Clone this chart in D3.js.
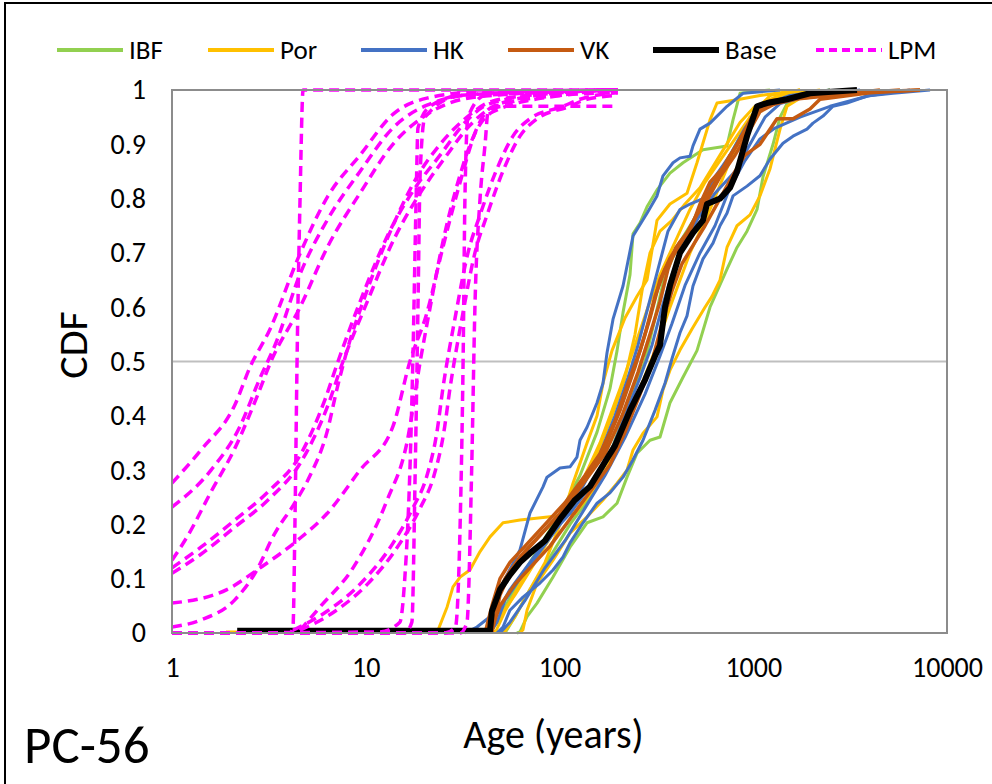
<!DOCTYPE html>
<html>
<head>
<meta charset="utf-8">
<script src="https://cdnjs.cloudflare.com/ajax/libs/d3/7.8.5/d3.min.js"></script>
<style>
  body { margin: 0; background: #fff; }
  text { font-family: Carlito, Calibri, Lato, sans-serif; fill: #000; }
</style>
</head>
<body>
<svg id="chart" width="992" height="784"></svg>
<script>
// series values: [age in years, CDF]
const ibf = [
  [[43.8,0],[49.3,0.03],[62.5,0.1],[79.3,0.16],[100.6,0.22],[127.6,0.29],[156.2,0.37],[182.2,0.45],[198.2,0.52],[212.7,0.59],[231.2,0.66],[239.6,0.735],[260.3,0.755],[282.9,0.785],[318.6,0.816],[371.8,0.847],[433.9,0.866],[550.3,0.89],[731.9,0.897],[786.2,0.945],[854.4,0.994],[1221,1]],
  [[60.3,0],[62.5,0.002],[68.0,0.03],[76.6,0.055],[92.6,0.103],[113.3,0.158],[138.7,0.203],[167.7,0.214],[198.2,0.239],[223.1,0.287],[251.2,0.331],[293.2,0.355],[330.2,0.361],[371.8,0.424],[433.9,0.471],[512.4,0.52],[598.1,0.6],[731.9,0.67],[824.5,0.71],[928.5,0.74],[1046,0.78],[1123,0.84],[1265,0.9],[1375,0.95],[1494,0.975],[1743,0.99],[2490,1]],
  [[52.3,0],[58.9,0.03],[70.4,0.08],[89.3,0.14],[113.3,0.2],[143.7,0.25],[182.2,0.33],[231.2,0.43],[276.3,0.5],[311.1,0.58],[350.4,0.66],[418.7,0.72],[531.0,0.78],[634.7,0.83],[758.6,0.88],[906.7,0.93],[1083,0.97],[1547,0.99],[2490,1]]
]

const por = [
  [[23.3,0],[26.3,0.048],[28.2,0.085],[30.7,0.103],[34.5,0.116],[38.9,0.15],[43.8,0.177],[51.1,0.203],[62.5,0.208],[89.3,0.214],[120.2,0.22],[161.8,0.28],[205.3,0.35],[260.3,0.45],[311.1,0.52],[371.8,0.6],[471.6,0.7],[598.1,0.78],[758.6,0.87],[962.1,0.95],[1221,0.99],[1743,1]],
  [[1.9,0.002],[30,0.002],[52.3,0.003],[58.9,0.03],[70.4,0.08],[84.2,0.13],[100.6,0.2],[117.4,0.276],[138.7,0.35],[156.2,0.4],[167.7,0.46],[186.6,0.52],[217.8,0.58],[251.2,0.62],[282.9,0.65],[318.6,0.76],[371.8,0.79],[455.1,0.81],[512.4,0.866],[598.1,0.945],[650.0,0.976],[824.5,0.982],[1083,0.99],[1743,1]],
  [[62.5,0],[64.8,0.006],[68.0,0.042],[76.6,0.092],[92.6,0.134],[113.3,0.184],[138.7,0.214],[167.7,0.245],[198.2,0.276],[223.1,0.3],[239.6,0.337],[269.8,0.368],[318.6,0.398],[342.2,0.448],[371.8,0.484],[418.7,0.521],[482.9,0.56],[563.6,0.6],[612.5,0.62],[673.6,0.65],[731.9,0.71],[824.5,0.75],[962.1,0.77],[1083,0.805],[1221,0.855],[1375,0.928],[1494,0.97],[1743,0.985],[2490,1]],
  [[46.5,0],[52.3,0.04],[62.5,0.09],[79.3,0.15],[100.6,0.21],[127.6,0.27],[161.8,0.35],[205.3,0.45],[245.4,0.53],[286.3,0.6],[330.2,0.66],[394.5,0.72],[471.6,0.78],[563.6,0.83],[673.6,0.87],[805.1,0.91],[962.1,0.95],[1150,0.98],[1743,1]],
  [[43.8,0],[49.3,0.03],[58.9,0.07],[74.7,0.13],[94.8,0.19],[120.2,0.25],[152.5,0.32],[186.6,0.4],[217.8,0.47],[245.4,0.55],[266.6,0.63],[293.2,0.7],[330.2,0.74],[380.7,0.76],[444.4,0.79],[531.0,0.82],[673.6,0.88],[854.4,0.94],[1021,0.97],[1375,0.99],[2211,1]]
]

const hk = [
  [[32.5,0],[37.5,0.011],[43.8,0.03],[51.1,0.092],[62.5,0.153],[70.4,0.221],[82.2,0.269],[86.2,0.287],[100.6,0.304],[113.3,0.306],[123.1,0.324],[127.6,0.355],[138.7,0.379],[156.2,0.424],[167.7,0.46],[175.9,0.516],[188.9,0.578],[212.7,0.639],[239.6,0.731],[282.9,0.773],[318.6,0.805],[342.2,0.842],[385.3,0.866],[418.7,0.875],[471.6,0.878],[488.6,0.897],[531.0,0.928],[598.1,0.939],[731.9,0.97],[885.4,0.994],[1375,1]],
  [[47.6,0],[51.1,0.011],[55.5,0.042],[64.8,0.066],[79.3,0.092],[92.6,0.116],[104.3,0.14],[113.3,0.166],[132.2,0.203],[156.2,0.239],[182.2,0.258],[212.7,0.287],[239.6,0.319],[269.8,0.355],[311.1,0.41],[350.4,0.46],[380.7,0.505],[418.7,0.553],[455.1,0.584],[488.6,0.639],[550.3,0.689],[619.8,0.718],[673.6,0.75],[731.9,0.773],[786.2,0.805],[928.5,0.823],[1083,0.842],[1221,0.873],[1424,0.902],[1604,0.915],[1894,0.928],[2034,0.939],[2291,0.952],[2580,0.97],[3047,0.976],[3865,0.989],[5264,0.994],[8173,1]],
  [[41.3,0],[46.5,0.03],[55.5,0.08],[70.4,0.13],[89.3,0.18],[113.3,0.22],[143.7,0.27],[182.2,0.33],[217.8,0.4],[260.3,0.47],[300.2,0.53],[338.1,0.6],[380.7,0.66],[444.4,0.72],[531.0,0.77],[634.7,0.81],[805.1,0.85],[962.1,0.9],[1150,0.95],[1375,0.975],[1963,0.99],[3556,1]],
  [[49.3,0],[55.5,0.02],[66.4,0.06],[84.2,0.12],[106.8,0.17],[135.4,0.23],[171.7,0.29],[217.8,0.36],[276.3,0.44],[330.2,0.51],[380.7,0.57],[444.4,0.64],[531.0,0.7],[634.7,0.75],[758.6,0.82],[906.7,0.87],[1083,0.91],[1295,0.93],[1743,0.95],[2490,0.97],[4005,0.99],[6442,1]],
  [[43.8,0],[47.6,0.02],[52.3,0.06],[62.5,0.1],[79.3,0.15],[100.6,0.2],[127.6,0.26],[161.8,0.33],[193.4,0.4],[225.7,0.47],[254.2,0.53],[286.3,0.6],[322.4,0.67],[363.1,0.74],[418.7,0.78],[471.6,0.79],[550.3,0.8],[634.7,0.84],[758.6,0.88],[906.7,0.93],[1083,0.97],[1547,0.99],[2490,1]]
]

const vk = [
  [[41.3,0],[44.8,0.05],[49.3,0.1],[55.5,0.13],[66.4,0.16],[84.2,0.2],[106.8,0.24],[135.4,0.29],[161.8,0.33],[193.4,0.39],[225.7,0.46],[260.3,0.52],[293.2,0.58],[330.2,0.65],[371.8,0.69],[418.7,0.72],[471.6,0.74],[531.0,0.79],[598.1,0.83],[714.8,0.86],[854.4,0.91],[985.2,0.95],[1150,0.97],[1743,0.985],[3157,0.995],[7255,1]],
  [[43.8,0],[49.3,0.05],[58.9,0.09],[70.4,0.12],[89.3,0.16],[113.3,0.21],[143.7,0.26],[182.2,0.31],[217.8,0.37],[260.3,0.44],[300.2,0.5],[338.1,0.57],[380.7,0.63],[428.8,0.68],[500.4,0.72],[563.6,0.75],[673.6,0.8],[805.1,0.85],[906.7,0.88],[1083,0.9],[1326,0.947],[1604,0.947],[1963,0.965],[2211,0.983],[4005,0.995],[7255,1]],
  [[42.8,0],[46.5,0.06],[52.3,0.1],[62.5,0.14],[79.3,0.18],[100.6,0.22],[127.6,0.27],[161.8,0.32],[205.3,0.41],[245.4,0.49],[276.3,0.55],[311.1,0.62],[350.4,0.67],[394.5,0.7],[444.4,0.73],[512.4,0.77],[584.1,0.8],[673.6,0.84],[805.1,0.88],[939.6,0.92],[1083,0.96],[1375,0.98],[2490,0.99],[4510,1]],
  [[44.8,0],[49.3,0.07],[55.5,0.11],[66.4,0.15],[84.2,0.19],[106.8,0.23],[135.4,0.28],[171.7,0.33],[210.2,0.4],[254.2,0.48],[293.2,0.55],[330.2,0.61],[363.1,0.67],[399.3,0.71],[460.5,0.74],[543.8,0.79],[634.7,0.83],[758.6,0.88],[906.7,0.92],[1046,0.96],[1221,0.98],[2211,0.99],[5720,1]]
]

const base = [[2.17,0.004],[43.8,0.004],[44.8,0.04],[49.3,0.08],[55.5,0.107],[62.5,0.13],[70.4,0.147],[84.2,0.17],[100.6,0.21],[120.2,0.245],[143.7,0.27],[161.8,0.30],[193.4,0.345],[231.2,0.41],[276.3,0.466],[311.1,0.51],[330.2,0.53],[350.4,0.6],[371.8,0.64],[418.7,0.70],[488.6,0.737],[550.3,0.76],[577.1,0.79],[673.6,0.80],[758.6,0.82],[824.5,0.85],[928.5,0.915],[1046,0.97],[1178,0.976],[1494,0.983],[1963,0.994],[3432,1]]

const lpm = [
  [[1,0.276],[1.41,0.337],[2.11,0.42],[2.53,0.49],[3.21,0.56],[4.47,0.69],[6.39,0.805],[9.34,0.88],[13.8,0.955],[20.7,0.985],[38.9,0.997],[200,1]],
  [[1,0.232],[1.59,0.30],[2.24,0.38],[2.85,0.47],[3.40,0.53],[4.63,0.665],[6.39,0.763],[9.34,0.85],[13.8,0.93],[20.7,0.972],[38.9,0.993],[200,1]],
  [[1,0.134],[1.21,0.18],[1.59,0.26],[2.11,0.34],[2.78,0.44],[3.24,0.5],[4.58,0.6],[6.39,0.713],[9.34,0.81],[13.8,0.9],[20.7,0.955],[38.9,0.988],[200,1]],
  [[1,0.12],[1.41,0.158],[2.11,0.208],[3.13,0.26],[4.63,0.33],[6.16,0.43],[7.19,0.5],[9.34,0.61],[13.3,0.74],[18.0,0.82],[24.2,0.88],[32.5,0.94],[43.8,0.975],[100.6,0.995],[200,1]],
  [[1,0.11],[1.41,0.145],[2.11,0.195],[3.13,0.245],[4.63,0.315],[6.39,0.42],[7.63,0.5],[9.91,0.6],[14.2,0.73],[19.1,0.81],[25.6,0.875],[34.5,0.935],[46.5,0.97],[100.6,0.99],[200,0.995]],
  [[1,0.011],[1.41,0.024],[2.11,0.061],[2.68,0.11],[3.40,0.184],[4.31,0.24],[5.16,0.29],[6.31,0.37],[7.11,0.45],[8.0,0.52],[9.91,0.62],[13.8,0.75],[18.4,0.84],[24.2,0.9],[33.3,0.95],[45.4,0.98],[100.6,0.995],[200,1]],
  [[1,0.055],[1.92,0.08],[2.85,0.12],[4.42,0.17],[6.31,0.22],[9.34,0.30],[13.8,0.38],[16.9,0.5],[20.7,0.59],[25.0,0.71],[30.7,0.83],[37.5,0.93],[45.4,0.97],[100.6,0.995],[200,1]],
  [[4.58,0.005],[5.81,0.048],[8.6,0.12],[12.9,0.245],[16.3,0.35],[19.1,0.5],[21.5,0.6],[25.0,0.72],[29.9,0.83],[36.6,0.92],[45.4,0.96],[100.6,0.99],[200,1]],
  [[4.21,0.005],[6.31,0.04],[9.34,0.09],[13.8,0.165],[17.5,0.23],[20.7,0.29],[23.3,0.37],[25.0,0.45],[28.9,0.58],[33.7,0.7],[38.9,0.77],[47.6,0.855],[57.5,0.915],[70.4,0.947],[104.3,0.97],[127.6,0.983],[200,0.995]],
  [[4.58,0.005],[6.94,0.04],[10.2,0.09],[15.0,0.165],[19.1,0.23],[22.5,0.29],[25.3,0.37],[27.2,0.45],[31.4,0.58],[36.6,0.7],[42.3,0.77],[51.7,0.855],[62.5,0.915],[76.6,0.947],[113.3,0.97],[138.7,0.983],[200,0.99]],
  [[1,0],[4.06,0],[4.21,0.01],[4.31,0.2],[4.42,0.5],[4.58,0.8],[4.75,1],[200,1]],
  [[1,0],[11.8,0.002],[15.0,0.02],[15.9,0.1],[16.9,0.3],[17.5,0.5],[18.2,0.8],[18.6,0.93],[21.5,0.97],[30.7,0.99],[200,1]],
  [[1,0],[15.9,0],[17.3,0.02],[18.0,0.3],[18.6,0.6],[19.1,0.85],[20.2,0.95],[30.7,0.99],[200,1]],
  [[1,0],[25.6,0],[29.0,0.01],[30.7,0.2],[31.8,0.5],[32.5,0.8],[33.7,0.95],[41.3,0.99],[200,1]],
  [[1,0],[30.7,0],[33.3,0.02],[35.2,0.3],[36.6,0.6],[38.9,0.8],[41.3,0.9],[42.8,0.96],[51.1,0.97],[200,0.97]]
]

const xTicks = [1, 10, 100, 1000, 10000]
const yTicks = [0, 0.1, 0.2, 0.3, 0.4, 0.5, 0.6, 0.7, 0.8, 0.9, 1]
const legendNames = ["IBF", "Por", "HK", "VK", "Base", "LPM"]

// styles per series, same order as the legend
const STYLES = {
  IBF:  {color: "#92D050", width: 3},
  Por:  {color: "#FFC000", width: 3},
  HK:   {color: "#4472C4", width: 3},
  VK:   {color: "#C55A11", width: 3.5},
  Base: {color: "#000000", width: 6},
  LPM:  {color: "#FF00FF", width: 3.5, dash: "10,6", smooth: true}
}

const PLOT = {left: 172, right: 947, top: 90, bottom: 633}
const FONT = "Carlito, Calibri, Lato, sans-serif"

let svg = d3.select("#chart")

// outer frame
svg.append("rect")
  .attr("x", 5).attr("y", 3)
  .attr("width", 1000).attr("height", 800)
  .attr("fill", "#fff")
  .attr("stroke", "#000").attr("stroke-width", 2)

let x = d3.scaleLog().domain([1, 10000]).range([PLOT.left, PLOT.right])
let y = d3.scaleLinear().domain([0, 1]).range([PLOT.bottom, PLOT.top])

// gridline at 0.5
svg.append("line")
  .attr("x1", PLOT.left).attr("x2", PLOT.right)
  .attr("y1", y(0.5)).attr("y2", y(0.5))
  .attr("stroke", "#bfbfbf").attr("stroke-width", 2)

svg.append("clipPath").attr("id", "clip")
  .append("rect")
  .attr("x", PLOT.left).attr("y", PLOT.top - 3)
  .attr("width", PLOT.right - PLOT.left).attr("height", PLOT.bottom - PLOT.top + 6)

let line = d3.line()
  .x(d => x(d[0]))
  .y(d => y(d[1]))
let smoothLine = d3.line()
  .x(d => x(d[0]))
  .y(d => y(d[1]))
  .curve(d3.curveMonotoneX)

let seriesGroups = [["IBF", ibf], ["Por", por], ["HK", hk], ["VK", vk], ["Base", [base]], ["LPM", lpm]]

let visG = svg.append("g").attr("clip-path", "url(#clip)")
seriesGroups.forEach(([name, curves]) => {
  let s = STYLES[name]
  visG.append("g").attr("class", "series-" + name)
    .selectAll("path")
    .data(curves)
    .join("path")
      .attr("d", s.smooth ? smoothLine : line)
      .attr("fill", "none")
      .attr("stroke", s.color)
      .attr("stroke-width", s.width)
      .attr("stroke-linejoin", "round")
      .attr("stroke-dasharray", s.dash || null)
})

// plot border
svg.append("rect")
  .attr("x", PLOT.left).attr("y", PLOT.top)
  .attr("width", PLOT.right - PLOT.left).attr("height", PLOT.bottom - PLOT.top)
  .attr("fill", "none")
  .attr("stroke", "#8c8c8c").attr("stroke-width", 2)

// axes, labels only
let yAxis = svg.append("g")
  .attr("transform", `translate(146,0)`)
  .call(d3.axisLeft(y).tickValues(yTicks).tickSize(0).tickPadding(0)
    .tickFormat(d => (d === 0 || d === 1) ? String(d) : d.toFixed(1)))
let xAxis = svg.append("g")
  .attr("transform", `translate(0,657)`)
  .call(d3.axisBottom(x).tickValues(xTicks).tickSize(0).tickPadding(0)
    .tickFormat(d3.format("d")))

for (let ax of [yAxis, xAxis]) {
  ax.select(".domain").remove()
  ax.selectAll("text")
    .attr("font-family", FONT)
    .attr("font-size", 28)
    .attr("fill", "#000")
}

svg.append("text")
  .attr("x", (PLOT.left + PLOT.right) / 2 - 6).attr("y", 748)
  .attr("text-anchor", "middle")
  .attr("font-size", 40)
  .text("Age (years)")

svg.append("text")
  .attr("transform", "translate(87,345) rotate(-90)")
  .attr("text-anchor", "middle")
  .attr("font-size", 42)
  .text("CDF")

svg.append("text")
  .attr("x", 24).attr("y", 763)
  .attr("font-size", 53)
  .text("PC-56")

// legend
const legendX = [57, 208, 361, 508, 653, 816]
let legend = svg.append("g").attr("class", "legend")
legendNames.forEach((name, i) => {
  let s = STYLES[name]
  let g = legend.append("g").attr("transform", `translate(${legendX[i]},50)`)
  g.append("line")
    .attr("x1", 0).attr("x2", 66)
    .attr("stroke", s.color)
    .attr("stroke-width", name === "Base" ? 6 : 4)
    .attr("stroke-dasharray", s.dash ? "8,5" : null)
  g.append("text")
    .attr("x", 72).attr("dy", "0.35em")
    .attr("font-size", 27)
    .text(name)
})
</script>
</body>
</html>
